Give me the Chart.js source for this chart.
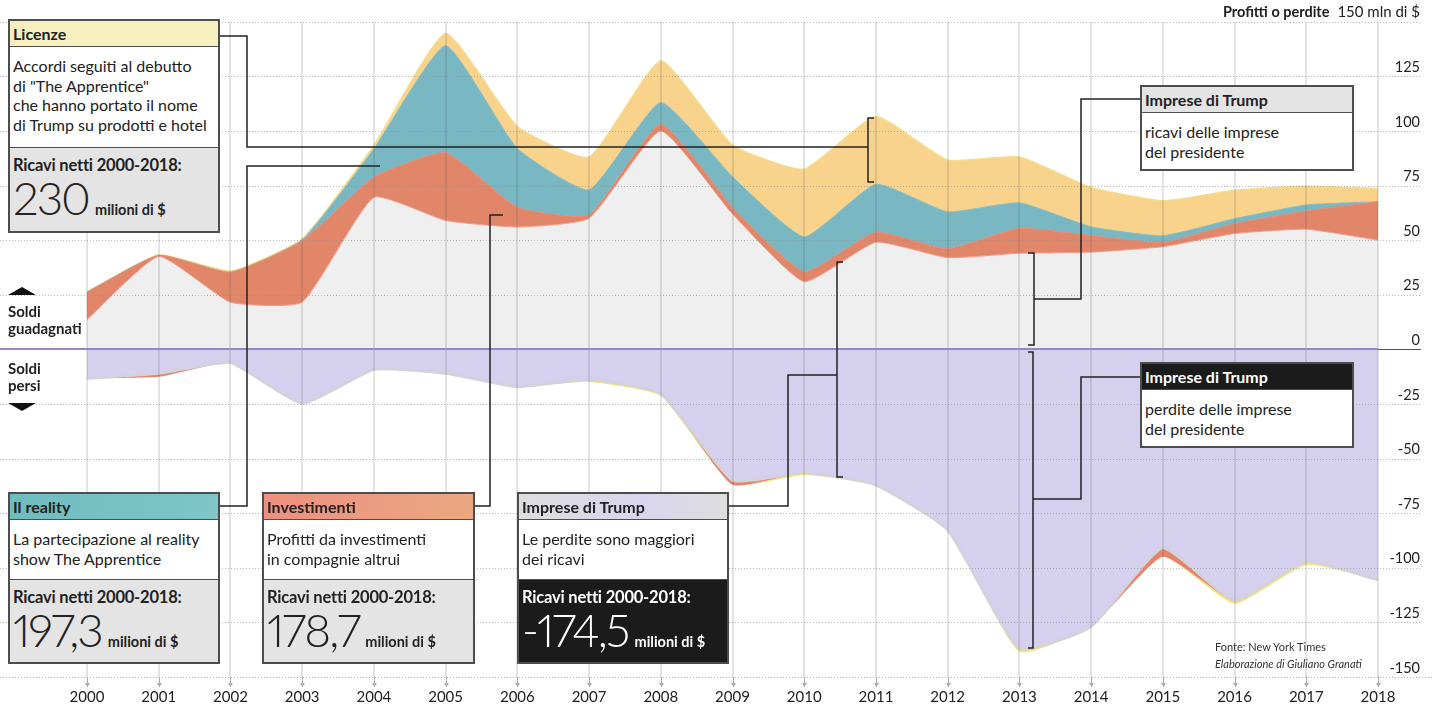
<!DOCTYPE html>
<html lang="it">
<head>
<meta charset="utf-8">
<title>Trump: ricavi e perdite 2000-2018</title>
<script src="https://cdn.jsdelivr.net/npm/chart.js@4.4.1/dist/chart.umd.min.js"></script>
<style>
  html, body { margin: 0; padding: 0; background: #fff; }
  body { font-family: Lato, "Noto Sans", sans-serif; color: #222; }
  #wrap { position: relative; width: 1433px; height: 707px; overflow: hidden; }
  #grafico { position: absolute; left: 0; top: 0; }
  .box { position: absolute; box-sizing: border-box; border: 2px solid #4d4d4d; background: #fff; display: flex; flex-direction: column; }
  .testa { box-sizing: border-box; height: 26px; line-height: 25px; padding-left: 3px; font-weight: 700; font-size: 16px; border-bottom: 1px solid #4d4d4d; }
  .corpo { box-sizing: border-box; padding: 9px 3px 0; font-size: 16px; line-height: 19.5px; }
  .totale { box-sizing: border-box; flex: 1; background: #e4e4e4; border-top: 1px solid #4d4d4d; padding: 7px 3px 0; }
  .totale.nero { background: #1b1b1b; color: #fff; }
  .etichetta { font-weight: 700; font-size: 16.5px; line-height: 20px; letter-spacing: -0.2px; }
  .cifra { display: flex; align-items: baseline; }
  .numero { font-size: 46px; font-weight: 300; line-height: 46px; letter-spacing: -2px; font-feature-settings: "pnum"; }
  .unita { font-size: 14.5px; font-weight: 700; margin-left: 6px; }
  .intestazione { position: absolute; right: 13px; top: 2px; font-size: 15px; }
  .intestazione b { font-size: 14.5px; margin-right: 8px; }
  .lato { position: absolute; left: 8px; font-weight: 700; font-size: 15px; line-height: 17px; }
  .su { position: absolute; left: 8px; top: 287px; width: 0; height: 0; border-left: 14px solid transparent; border-right: 14px solid transparent; border-bottom: 8px solid #111; }
  .giu { position: absolute; left: 8px; top: 403px; width: 0; height: 0; border-left: 14px solid transparent; border-right: 14px solid transparent; border-top: 8px solid #111; }
  .fonte { position: absolute; left: 1215px; top: 638px; font-size: 11px; line-height: 17px; color: #333; }
</style>
</head>
<body>
<div id="wrap">
  <canvas id="grafico" width="1433" height="707"></canvas>

  <div class="intestazione"><b>Profitti o perdite</b>150 mln di $</div>

  <div class="su"></div>
  <div class="lato" style="top:303px">Soldi<br>guadagnati</div>
  <div class="lato" style="top:360px">Soldi<br>persi</div>
  <div class="giu"></div>

  <div class="box" style="left:8px;top:19px;width:212px;height:214px">
    <div class="testa" style="background:#f7efbd">Licenze</div>
    <div class="corpo" style="height:100px">Accordi seguiti al debutto<br>di "The Apprentice"<br>che hanno portato il nome<br>di Trump su prodotti e hotel</div>
    <div class="totale">
      <div class="etichetta">Ricavi netti 2000-2018:</div>
      <div class="cifra"><span class="numero">230</span><span class="unita">milioni di $</span></div>
    </div>
  </div>

  <div class="box" style="left:8px;top:492px;width:212px;height:172px">
    <div class="testa" style="background:linear-gradient(90deg,#6fbcbf,#7ec6c8)">Il reality</div>
    <div class="corpo" style="height:59px">La partecipazione al reality<br>show The Apprentice</div>
    <div class="totale">
      <div class="etichetta">Ricavi netti 2000-2018:</div>
      <div class="cifra"><span class="numero">197,3</span><span class="unita">milioni di $</span></div>
    </div>
  </div>

  <div class="box" style="left:262px;top:492px;width:213px;height:172px">
    <div class="testa" style="background:linear-gradient(90deg,#ef8f7f,#eaa882)">Investimenti</div>
    <div class="corpo" style="height:59px">Profitti da investimenti<br>in compagnie altrui</div>
    <div class="totale">
      <div class="etichetta">Ricavi netti 2000-2018:</div>
      <div class="cifra"><span class="numero">178,7</span><span class="unita">milioni di $</span></div>
    </div>
  </div>

  <div class="box" style="left:517px;top:492px;width:212px;height:172px">
    <div class="testa" style="background:linear-gradient(90deg,#dedede,#d9d5ef 60%,#dedede)">Imprese di Trump</div>
    <div class="corpo" style="height:59px">Le perdite sono maggiori<br>dei ricavi</div>
    <div class="totale nero">
      <div class="etichetta">Ricavi netti 2000-2018:</div>
      <div class="cifra"><span class="numero">-174,5</span><span class="unita">milioni di $</span></div>
    </div>
  </div>

  <div class="box" style="left:1140px;top:85px;width:214px;height:86px">
    <div class="testa" style="background:#e4e4e4">Imprese di Trump</div>
    <div class="corpo">ricavi delle imprese<br>del presidente</div>
  </div>

  <div class="box" style="left:1140px;top:362px;width:214px;height:86px">
    <div class="testa" style="background:#1b1b1b;color:#fff">Imprese di Trump</div>
    <div class="corpo">perdite delle imprese<br>del presidente</div>
  </div>

  <div class="fonte">Fonte: New York Times<br><i>Elaborazione di Giuliano Granati</i></div>
</div>

<script>
// Dati (milioni di dollari)
const anni = [2000, 2001, 2002, 2003, 2004, 2005, 2006, 2007, 2008, 2009,
              2010, 2011, 2012, 2013, 2014, 2015, 2016, 2017, 2018];

// parte positiva (impilata dal basso)
const impreseRicavi = [13.6, 42.5, 21.6, 21.6, 69.6, 59, 56, 60, 100, 62, 31, 49, 42, 44, 44.5, 47, 53, 55, 50];
const investimenti  = [12.6, 0.5, 13.7, 28, 9.2, 31, 9, 1.5, 3, 3, 4.5, 4.6, 4, 11.4, 7.6, 2, 4.5, 8.4, 17.6];
const reality       = [0, 0, 0, 0.5, 13, 49, 27, 11.5, 10, 14, 16, 22, 17, 11.7, 4, 3, 2.3, 2.7, 0];
const licenze       = [0, 0.3, 0.5, 0.5, 1.5, 5.6, 10, 15, 19, 14.5, 31, 31, 23.6, 21, 18, 16, 13, 8.7, 6];

// parte negativa (impilata verso il basso)
const impresePerdite      = [-13.4, -11.1, -6.2, -24.8, -9.3, -11.1, -17.2, -13.9, -20.3, -60, -56.5, -62.2, -82.8, -137, -127, -91, -115, -97.2, -105.6];
const investimentiPerdite = [0, -1.5, 0, 0, 0, 0, 0, 0, 0, -2, 0, 0, 0, 0, 0, -4, 0, 0, 0];
const licenzePerdite      = [0, 0, 0, 0, 0, 0, 0, -1, -1, 0, -1, 0, 0, -1.5, 0, 0, -1.5, -1.5, 0];

const tickY = [-150, -125, -100, -75, -50, -25, 0, 25, 50, 75, 100, 125, 150];

// somma cumulata delle serie, anno per anno
function somma(...serie) {
    return anni.map((a, i) => ({ x: a, y: serie.reduce((s, arr) => s + arr[i], 0) }));
}

function area(dati, colore, bordo, spessore, riempimento) {
    return {
        data: dati,
        backgroundColor: colore,
        borderColor: bordo,
        borderWidth: spessore,
        fill: riempimento,
        tension: 0.15,
        pointRadius: 0
    };
}

const datasets = [
    area(somma(impreseRicavi), '#efefef', '#f09a88', 1, 'origin'),
    area(somma(impreseRicavi, investimenti), '#e2866a', '#e98a72', 1, '-1'),
    area(somma(impreseRicavi, investimenti, reality), '#79b7c2', '#82bec8', 1, '-1'),
    area(somma(impreseRicavi, investimenti, reality, licenze), '#f9d28c', '#f3dc8a', 1.5, '-1'),
    area(somma(impresePerdite), '#d5d0ee', '#d2d2d8', 2.5, 'origin'),
    area(somma(impresePerdite, investimentiPerdite), '#e5836b', 'rgba(0,0,0,0)', 0, '-1'),
    area(somma(impresePerdite, investimentiPerdite, licenzePerdite), '#f4e27c', 'rgba(0,0,0,0)', 0, '-1')
];

// linee di richiamo tra i riquadri e il grafico
const richiami = [
    [[219, 36], [247, 36], [247, 147], [868, 147]],
    [[874, 118], [868, 118], [868, 182], [874, 182]],
    [[218, 506], [247, 506], [247, 166], [380, 166]],
    [[474, 506], [490, 506], [490, 215], [503, 215]],
    [[728, 506], [788, 506], [788, 375], [837, 375]],
    [[843, 262], [837, 262], [837, 477], [843, 477]],
    [[1140, 99], [1081, 99], [1081, 299], [1034, 299]],
    [[1028, 253], [1034, 253], [1034, 345], [1028, 345]],
    [[1140, 377], [1081, 377], [1081, 499], [1033, 499]],
    [[1028, 352], [1033, 352], [1033, 648], [1028, 648]]
];

const griglia = {
    id: 'griglia',
    afterDatasetsDraw(chart) {
        const { ctx, chartArea, scales: { x, y } } = chart;
        ctx.save();
        // linee orizzontali tratteggiate
        ctx.strokeStyle = 'rgba(140,140,140,0.6)';
        ctx.lineWidth = 1;
        ctx.setLineDash([1, 2]);
        tickY.forEach(v => {
            if (v === 0) return;
            const py = Math.round(y.getPixelForValue(v)) + 0.5;
            ctx.beginPath();
            ctx.moveTo(0, py);
            ctx.lineTo(v === -150 ? 1433 : 1422, py);
            ctx.stroke();
        });
        ctx.setLineDash([]);
        // linee verticali degli anni
        ctx.strokeStyle = 'rgba(90,90,90,0.17)';
        ctx.lineWidth = 2;
        anni.forEach(a => {
            const px = Math.round(x.getPixelForValue(a));
            ctx.beginPath();
            ctx.moveTo(px, chartArea.top);
            ctx.lineTo(px, chartArea.bottom);
            ctx.stroke();
        });
        // linea dello zero
        const y0 = Math.round(y.getPixelForValue(0));
        ctx.strokeStyle = '#8f8ac6';
        ctx.lineWidth = 2;
        ctx.beginPath();
        ctx.moveTo(0, y0);
        ctx.lineTo(chartArea.right, y0);
        ctx.stroke();
        ctx.strokeStyle = '#555';
        ctx.lineWidth = 1;
        ctx.beginPath();
        ctx.moveTo(chartArea.right, y0 + 0.5);
        ctx.lineTo(1421, y0 + 0.5);
        ctx.stroke();
        // tacche sull'asse x
        ctx.strokeStyle = '#aaa';
        ctx.fillStyle = '#aaa';
        ctx.lineWidth = 1;
        anni.forEach(a => {
            const px = Math.round(x.getPixelForValue(a)) + 0.5;
            ctx.beginPath();
            ctx.moveTo(px, chartArea.bottom);
            ctx.lineTo(px, chartArea.bottom + 10);
            ctx.stroke();
            ctx.beginPath();
            ctx.moveTo(px - 2.5, chartArea.bottom + 6);
            ctx.lineTo(px + 2.5, chartArea.bottom + 6);
            ctx.lineTo(px, chartArea.bottom + 10);
            ctx.fill();
        });
        ctx.restore();
    },
    afterDraw(chart) {
        const ctx = chart.ctx;
        ctx.save();
        ctx.strokeStyle = '#222';
        ctx.lineWidth = 1.5;
        richiami.forEach(p => {
            ctx.beginPath();
            ctx.moveTo(p[0][0], p[0][1]);
            p.slice(1).forEach(q => ctx.lineTo(q[0], q[1]));
            ctx.stroke();
        });
        ctx.restore();
    }
};

new Chart(document.getElementById('grafico'), {
    type: 'line',
    data: { datasets },
    options: {
        responsive: false,
        animation: false,
        devicePixelRatio: 1,
        layout: { padding: { left: 87, right: 13, top: 21, bottom: 0 } },
        plugins: { legend: { display: false }, tooltip: { enabled: false } },
        scales: {
            x: {
                type: 'linear',
                min: 2000,
                max: 2018,
                grid: { display: false, drawTicks: false },
                border: { display: false },
                ticks: {
                    stepSize: 1,
                    autoSkip: false,
                    maxRotation: 0,
                    padding: 11,
                    color: '#222',
                    font: { family: 'Lato', size: 15 },
                    callback: v => String(v)
                },
                afterFit: s => { s.height = 30; }
            },
            y: {
                position: 'right',
                min: -150,
                max: 150,
                grid: { display: false, drawTicks: false },
                border: { display: false },
                afterBuildTicks: s => { s.ticks = tickY.map(v => ({ value: v })); },
                ticks: {
                    crossAlign: 'far',
                    labelOffset: -9,
                    padding: 13,
                    color: '#222',
                    font: { family: 'Lato', size: 14.5 },
                    callback: v => (v === 150 ? '' : String(v))
                },
                afterFit: s => { s.width = 42; }
            }
        }
    },
    plugins: [griglia]
});
</script>
</body>
</html>
